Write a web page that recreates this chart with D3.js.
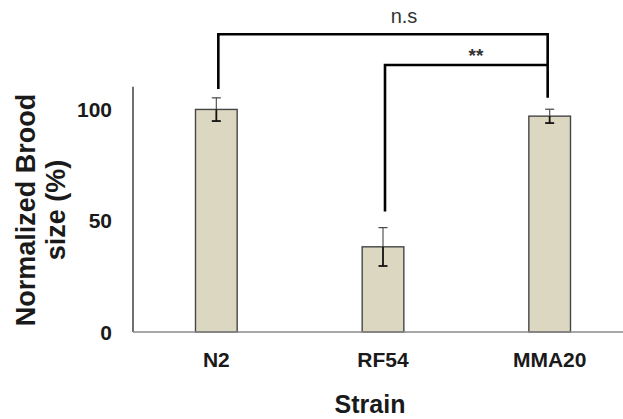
<!DOCTYPE html>
<html><head><meta charset="utf-8">
<script src="https://cdn.jsdelivr.net/npm/d3@7"></script>
<style>html,body{margin:0;padding:0;background:#fff;}svg{display:block;font-family:Arial,"Liberation Sans",sans-serif;}</style>
</head><body>
<svg id="chart" width="623" height="419"></svg>
<script>
const categories = ["N2", "RF54", "MMA20"];
const values = [99.8, 38.2, 96.8];
const errors = [5.2, 8.6, 3.1];
const yTicks = [0, 50, 100];
const brackets = [
  {from: "N2", to: "MMA20", y: 133.5, leftEnd: 109, rightEnd: 105, label: "n.s"},
  {from: "RF54", to: "MMA20", y: 119.7, leftEnd: 54, rightEnd: 119.7, label: "**"}
];

const svg = d3.select("#chart");
const x = d3.scaleBand().domain(categories).range([133, 633]).paddingInner(0.75).paddingOuter(0.375);
const y = d3.scaleLinear().domain([0, 100]).range([332, 109]);

// y axis line
svg.append("line").attr("x1",133).attr("x2",133).attr("y1",y(110)).attr("y2",y(0))
  .attr("stroke","#111").attr("stroke-width",1.2);

// bars
svg.selectAll("rect.bar").data(categories).join("rect")
  .attr("x", d => x(d)).attr("width", x.bandwidth())
  .attr("y", (d,i) => y(values[i])).attr("height", (d,i) => y(0) - y(values[i]))
  .attr("fill", "#dcd7c0").attr("stroke", "#454545").attr("stroke-width", 1.4);

// x axis line
svg.append("line").attr("x1",133).attr("x2",623).attr("y1",y(0)).attr("y2",y(0))
  .attr("stroke","#8a8a8a").attr("stroke-width",1.5);

// error bars
const cap = 4.5;
categories.forEach((c,i) => {
  const cx = x(c) + x.bandwidth()/2;
  const g = svg.append("g");
  g.append("line").attr("x1",cx).attr("x2",cx).attr("y1",y(values[i]+errors[i])).attr("y2",y(values[i]))
    .attr("stroke","#555").attr("stroke-width",1.2);
  g.append("line").attr("x1",cx).attr("x2",cx).attr("y1",y(values[i])).attr("y2",y(values[i]-errors[i]))
    .attr("stroke","#111").attr("stroke-width",1.8);
  g.append("line").attr("x1",cx-cap).attr("x2",cx+cap).attr("y1",y(values[i]+errors[i])).attr("y2",y(values[i]+errors[i]))
    .attr("stroke","#444").attr("stroke-width",1.2);
  g.append("line").attr("x1",cx-cap).attr("x2",cx+cap).attr("y1",y(values[i]-errors[i])).attr("y2",y(values[i]-errors[i]))
    .attr("stroke","#111").attr("stroke-width",1.8);
});

// y tick labels
svg.selectAll("text.ytick").data(yTicks).join("text")
  .attr("x", 112).attr("y", d => y(d)).attr("dy","0.36em")
  .attr("text-anchor","end").attr("font-size",21).attr("font-weight","bold").attr("fill","#1a1a1a")
  .text(d => d);

// x tick labels
svg.selectAll("text.xtick").data(categories).join("text")
  .attr("x", d => x(d) + x.bandwidth()/2).attr("y", 367)
  .attr("text-anchor","middle").attr("font-size",21).attr("font-weight","bold").attr("fill","#1a1a1a")
  .text(d => d);

// axis titles
svg.append("text").attr("x",370).attr("y",413).attr("text-anchor","middle")
  .attr("font-size",25).attr("font-weight","bold").attr("fill","#1a1a1a").text("Strain");
const yt = svg.append("text").attr("transform","translate(0,210) rotate(-90)")
  .attr("text-anchor","middle").attr("font-size",27).attr("font-weight","bold").attr("fill","#1a1a1a");
yt.append("tspan").attr("x",0).attr("y",35).text("Normalized Brood");
yt.append("tspan").attr("x",0).attr("y",65).text("size (%)");

// significance brackets
brackets.forEach(b => {
  const x1 = x(b.from) + x.bandwidth()/2 + 2;
  const x2 = x(b.to) + x.bandwidth()/2 - 2;
  svg.append("path")
    .attr("d", `M${x1},${y(b.leftEnd)}V${y(b.y)}H${x2}V${y(b.rightEnd)}`)
    .attr("fill","none").attr("stroke","#000").attr("stroke-width",2.6);
});
svg.append("text").attr("x",404).attr("y",23).attr("text-anchor","middle")
  .attr("font-size",20).attr("fill","#333").text(brackets[0].label);
svg.append("text").attr("x",476).attr("y",62).attr("text-anchor","middle")
  .attr("font-size",19).attr("font-weight","bold").attr("fill","#333").text(brackets[1].label);
</script>
</body></html>
